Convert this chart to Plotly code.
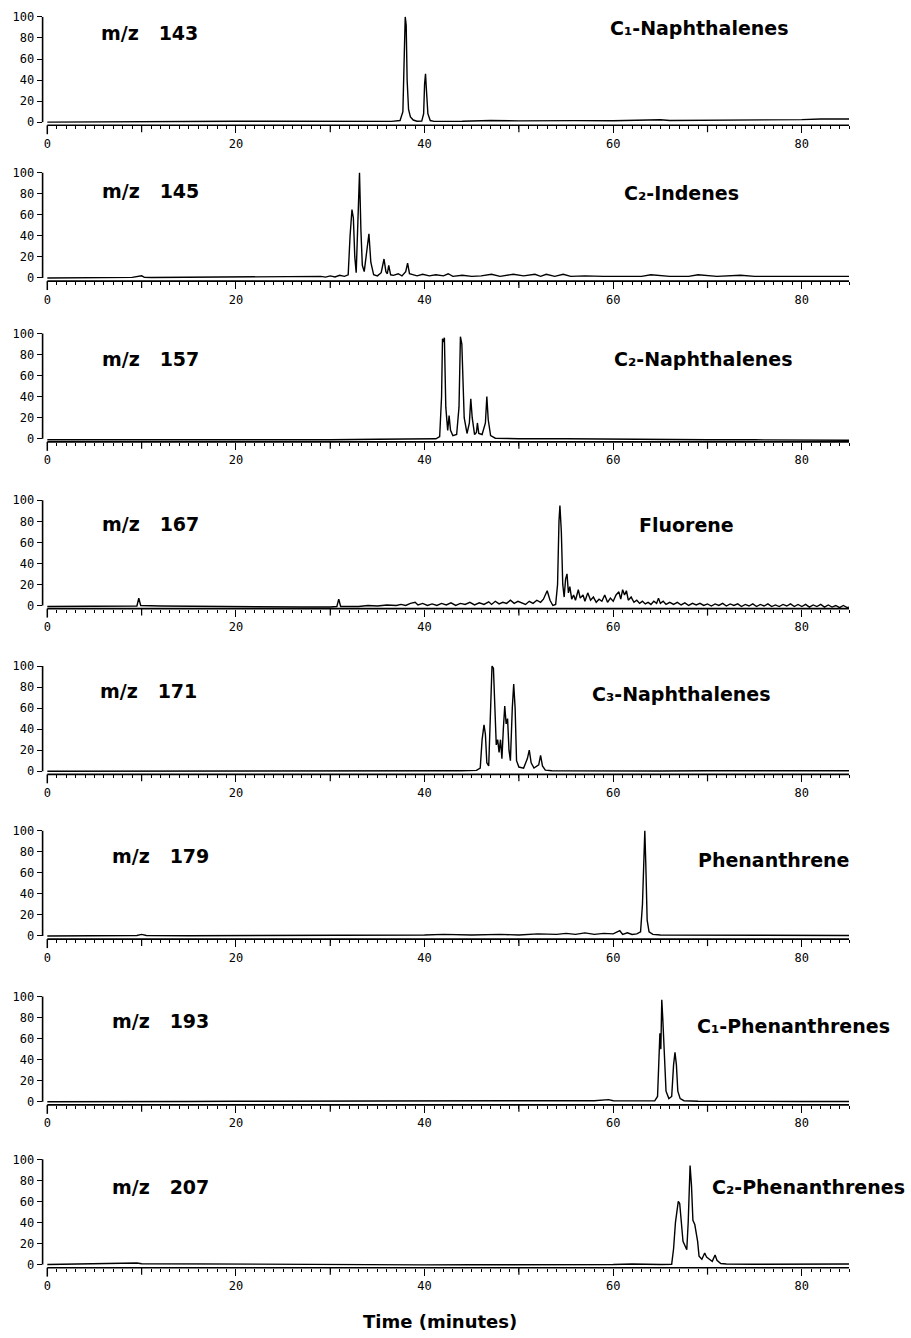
import plotly.graph_objects as go

# ---------------- data (time in minutes, relative intensity %) ----------------
panel_mz = ["m/z\u00a0\u00a0\u00a0143", "m/z\u00a0\u00a0\u00a0145", "m/z\u00a0\u00a0\u00a0157", "m/z\u00a0\u00a0\u00a0167",
            "m/z\u00a0\u00a0\u00a0171", "m/z\u00a0\u00a0\u00a0179", "m/z\u00a0\u00a0\u00a0193", "m/z\u00a0\u00a0\u00a0207"]
panel_names = ["C\u2081-Naphthalenes", "C\u2082-Indenes", "C\u2082-Naphthalenes", "Fluorene",
               "C\u2083-Naphthalenes", "Phenanthrene", "C\u2081-Phenanthrenes", "C\u2082-Phenanthrenes"]

x_tick_vals = [0, 20, 40, 60, 80]
x_tick_text = ["0", "20", "40", "60", "80"]
x_mid_ticks = [10, 30, 50, 70]
y_tick_vals = [0, 20, 40, 60, 80, 100]
y_tick_text = ["0", "20", "40", "60", "80", "100"]

mz143 = [(0, 0), (4, 0.3), (8, 0.5), (12, 0.8), (16, 0.6), (20, 0.9), (24, 0.8), (28, 0.6), (32, 0.5), (35, 0.6),
         (36.5, 0.7), (37.4, 1.5), (37.7, 10), (37.85, 65), (37.95, 100), (38.05, 92), (38.15, 40), (38.3, 12),
         (38.5, 5), (38.8, 2), (39.2, 0.8), (39.7, 1), (39.9, 8), (40.0, 36), (40.1, 46), (40.2, 30), (40.35, 8),
         (40.6, 1.5), (41, 0.7), (44, 0.8), (47, 1.6), (50, 1.2), (53, 1.5), (56, 1.4), (60, 1.3), (64, 1.6),
         (65, 2.2), (66, 1.5), (70, 1.6), (75, 1.7), (80, 2.4), (82, 3), (85, 3)]

mz145 = [(0, 0), (3, 0), (6, 0.3), (9, 0.5), (10, 2), (10.3, 0.5), (11, 0.4), (15, 0.6), (20, 0.4), (25, 0.7),
         (28, 0.8), (29, 1.5), (29.5, 0.8), (30, 2), (30.5, 1), (31, 2.5), (31.5, 1.5), (31.9, 3), (32.1, 40),
         (32.3, 65), (32.45, 57), (32.6, 20), (32.75, 5), (32.85, 36), (32.95, 60), (33.1, 100), (33.25, 45),
         (33.4, 12), (33.6, 6), (33.9, 25), (34.1, 42), (34.3, 15), (34.6, 3), (35, 2), (35.4, 5), (35.7, 18),
         (35.9, 6), (36.05, 4), (36.2, 12), (36.4, 3), (36.7, 2.5), (37.2, 4), (37.6, 2), (38.0, 6), (38.2, 14),
         (38.4, 4), (38.7, 3), (39.2, 2), (39.8, 3.5), (40.5, 2), (41.2, 3), (42, 2), (42.5, 4), (43, 1.5),
         (44, 2.5), (45, 1.5), (46, 2), (47.1, 3.5), (48, 1.5), (49.4, 3.5), (50.5, 2), (51.7, 3.5), (52.3, 1.5),
         (52.9, 3.5), (53.8, 1.5), (54.7, 3.5), (55.5, 1.5), (57, 2), (59, 1.5), (61, 1.8), (63, 1.5), (64, 3),
         (66, 1.5), (68, 1.5), (69, 3), (71, 1.5), (73.5, 2.5), (75, 1.5), (78, 1.5), (81, 1.5), (85, 1.5)]

mz157 = [(0, -1), (5, -1), (10, -1), (15, -1), (20, -1.5), (25, -1), (30, -1), (35, -0.5), (38, 0), (40, 0),
         (41.2, 0), (41.6, 2), (41.8, 40), (41.9, 95), (42.0, 92), (42.1, 96), (42.25, 30), (42.45, 8), (42.6, 22),
         (42.75, 8), (43.0, 3), (43.4, 4), (43.65, 30), (43.8, 97), (43.95, 90), (44.2, 20), (44.5, 5), (44.75, 15),
         (44.9, 38), (45.05, 20), (45.3, 4), (45.5, 6), (45.6, 15), (45.75, 5), (46.1, 4), (46.45, 15), (46.6, 40),
         (46.75, 18), (47.0, 3), (47.5, 0.5), (50, 0), (55, 0), (60, -0.5), (65, -0.5), (70, -1), (75, -1),
         (80, -1), (85, -1.5)]

mz167 = [(0, -1), (3, -1), (6, -1), (9, -0.8), (9.5, -0.5), (9.7, 7), (9.9, 0), (12, -0.5), (15, -0.8), (18, -0.8),
         (21, -1), (24, -1.5), (27, -1.5), (30, -1.5), (30.7, -1), (30.9, 6), (31.1, -1), (33, -1), (34, 0),
         (35, -0.5), (36, 0.5), (37, 0), (37.5, 1), (38, 0), (38.5, 2), (39, 3), (39.3, 0.5), (39.8, 2), (40.3, 0),
         (40.8, 1.5), (41.3, 0), (41.8, 2), (42.3, 0.5), (42.8, 2.5), (43.3, 0), (43.8, 2), (44.3, 1), (44.8, 3),
         (45.3, 0.5), (45.8, 2.5), (46.3, 1), (46.8, 3.5), (47.1, 1), (47.5, 4), (47.9, 1.5), (48.3, 3), (48.7, 2),
         (49.1, 5), (49.5, 2), (49.9, 4), (50.3, 2.5), (50.7, 1), (51.1, 4), (51.5, 2), (51.9, 5), (52.3, 3),
         (52.6, 6), (53.0, 14), (53.3, 5), (53.6, 0), (53.9, 1), (54.1, 20), (54.25, 80), (54.35, 95), (54.5, 70),
         (54.65, 20), (54.8, 8), (54.95, 25), (55.1, 30), (55.25, 12), (55.4, 18), (55.6, 6), (55.8, 10), (56.0, 5),
         (56.3, 15), (56.5, 7), (56.8, 10), (57.0, 4), (57.3, 12), (57.6, 5), (57.9, 8), (58.2, 3), (58.5, 6),
         (58.8, 4), (59.1, 10), (59.4, 3), (59.7, 7), (60.0, 4), (60.3, 10), (60.6, 13), (60.8, 6), (61.0, 15),
         (61.2, 10), (61.4, 14), (61.6, 5), (61.9, 8), (62.2, 3), (62.5, 5), (62.8, 2), (63.1, 4), (63.4, 1.5),
         (63.7, 3), (64.0, 1), (64.3, 4), (64.6, 2), (64.8, 7), (65.0, 2), (65.3, 4), (65.6, 1), (66.0, 3),
         (66.4, 1), (66.8, 3), (67.2, 0.5), (67.6, 2.5), (68.0, 0), (68.4, 2), (68.8, 0.5), (69.2, 2), (69.6, 0),
         (70.0, 1.5), (70.4, -0.5), (70.8, 1.5), (71.2, 0), (71.6, 2), (72.0, -0.5), (72.4, 1.5), (72.8, 0),
         (73.2, 1.5), (73.6, -1), (74.0, 1), (74.4, -0.5), (74.8, 1.5), (75.2, -1), (75.6, 1), (76.0, -0.5),
         (76.4, 1.5), (76.8, -1), (77.2, 0.5), (77.6, -1), (78.0, 1), (78.4, -0.5), (78.8, 1.5), (79.2, -1),
         (79.6, 1), (80.0, -1), (80.4, 1), (80.8, -1.5), (81.2, 0.5), (81.6, -1), (82.0, 1), (82.4, -1.5),
         (82.8, 0.5), (83.2, -1.5), (83.6, 0), (84.0, -2), (84.4, 0), (84.8, -2), (85, -1.5)]

mz171 = [(0, 0), (4, 0), (8, 0.3), (12, 0), (16, 0.2), (20, 0), (25, 0), (30, 0.2), (35, 0), (40, 0.3), (44, 0.5),
         (45.5, 0.8), (45.9, 3), (46.1, 30), (46.3, 44), (46.45, 35), (46.6, 8), (46.8, 5), (47.0, 60), (47.15, 100),
         (47.3, 98), (47.45, 55), (47.6, 25), (47.75, 30), (47.9, 18), (48.05, 30), (48.2, 12), (48.35, 40),
         (48.5, 62), (48.65, 45), (48.8, 50), (48.95, 20), (49.1, 10), (49.3, 60), (49.45, 83), (49.6, 60),
         (49.75, 10), (50.0, 4), (50.5, 3), (50.9, 12), (51.1, 20), (51.3, 8), (51.6, 3), (52.1, 6), (52.3, 15),
         (52.5, 5), (52.8, 1), (53.5, 0.5), (56, 0.3), (60, 0.3), (65, 0.2), (70, 0.5), (75, 0.3), (80, 0.3),
         (85, 0.5)]

mz179 = [(0, 0), (5, 0.3), (9.5, 0.5), (10, 1.5), (10.5, 0.5), (15, 0.3), (20, 0.3), (25, 0.5), (30, 0.5),
         (35, 0.8), (40, 1), (42, 1.5), (45, 1), (48, 1.5), (50, 1), (52, 2), (54, 1.5), (55, 2.5), (56, 1.5),
         (57, 3), (58, 1.5), (59, 2.5), (60, 2), (60.7, 5), (61, 1.5), (61.5, 3), (62, 1.5), (62.5, 2), (62.9, 4),
         (63.1, 30), (63.25, 82), (63.35, 100), (63.45, 70), (63.6, 15), (63.8, 4), (64.2, 1.5), (65, 1), (67, 1),
         (70, 0.8), (75, 0.5), (80, 0.5), (85, 0.5)]

mz193 = [(0, 0), (5, 0.3), (10, 0.5), (15, 0.3), (20, 0.5), (25, 0.5), (30, 0.6), (35, 0.5), (40, 0.5), (45, 0.3),
         (50, 0.5), (55, 0.5), (58, 1), (59.5, 2), (60, 1), (61, 0.8), (63, 0.5), (64.4, 0.8), (64.7, 5),
         (64.85, 40), (64.95, 65), (65.05, 50), (65.15, 97), (65.25, 80), (65.35, 60), (65.45, 30), (65.6, 10),
         (65.9, 3), (66.2, 5), (66.4, 35), (66.55, 47), (66.7, 35), (66.85, 10), (67.1, 3), (67.5, 1), (69, 0.5),
         (72, 0.3), (76, 0.3), (80, 0.3), (85, 0.3)]

mz207 = [(0, 0), (5, 0.5), (9.5, 1.5), (10, 0.8), (15, 0.5), (20, 0.2), (25, 0), (30, 0), (35, -0.2), (40, -0.3),
         (45, -0.2), (50, -0.3), (55, -0.3), (60, 0), (62, 0.5), (64, 0), (65, 0), (66.2, 0.3), (66.4, 15),
         (66.6, 40), (66.8, 52), (66.9, 60), (67.05, 58), (67.2, 38), (67.4, 22), (67.6, 18), (67.8, 14),
         (67.95, 40), (68.05, 70), (68.15, 94), (68.3, 75), (68.45, 42), (68.65, 38), (68.8, 30), (68.95, 22),
         (69.1, 8), (69.4, 5), (69.7, 11), (69.9, 7), (70.2, 5), (70.5, 3), (70.8, 9), (71.0, 4), (71.4, 1),
         (72, 0.5), (75, 0.3), (80, 0.3), (85, 0.5)]

series = [mz143, mz145, mz157, mz167, mz171, mz179, mz193, mz207]

# ---------------- layout geometry (pixels) ----------------
W, H = 911, 1338
p100 = [11, 168, 330, 498, 665, 831, 998, 1162]   # pixel row of the 100 tick in each panel
span = 106.0                                      # pixels for 0..100
ppu = span / 100.0
YMIN, YMAX = -3, 101
x_left_px, x_right_px = 42.6, 849.0
XMIN, XMAX = -0.5, 85

name_pos = [(608, 22), (622, 188), (612, 356), (637, 523), (590, 693), (696, 860), (695, 1028), (710, 1190)]
mz_pos = [(99, 27), (100, 186), (100, 356), (100, 522), (98, 690), (110, 856), (110, 1023), (110, 1190)]


def py(p):
    return 1 - p / H


def px(p):
    return p / W


fig = go.Figure()
layout = dict(width=W, height=H, margin=dict(l=0, r=0, t=0, b=0), paper_bgcolor="white",
              plot_bgcolor="white", showlegend=False)
shapes = []
annotations = []
tickfont = dict(family="DejaVu Sans Mono", size=12, color="black")
labfont = dict(family="DejaVu Sans", size=19, color="black")

for i, pts in enumerate(series):
    k = "" if i == 0 else str(i + 1)
    top = p100[i] - (YMAX - 100) * ppu
    bot = p100[i] + span + (0 - YMIN) * ppu
    p0 = p100[i] + span
    fig.add_trace(go.Scatter(x=[p[0] for p in pts], y=[p[1] for p in pts], mode="lines",
                             line=dict(color="black", width=1.4), xaxis="x" + k, yaxis="y" + k,
                             hoverinfo="skip"))
    layout["xaxis" + k] = dict(domain=[px(x_left_px), px(x_right_px)], anchor="y" + k, range=[XMIN, XMAX],
                               showgrid=False, zeroline=False, showline=False, ticks="outside",
                               tickvals=x_tick_vals, ticktext=x_tick_text, ticklen=7, tickwidth=1.2,
                               tickcolor="black", tickfont=tickfont,
                               minor=dict(dtick=1, tick0=0, ticks="outside", ticklen=3, tickwidth=1,
                                          tickcolor="black", showgrid=False))
    layout["yaxis" + k] = dict(domain=[py(bot), py(top)], anchor="x" + k, range=[YMIN, YMAX],
                               showgrid=False, zeroline=False, showline=False, ticks="outside",
                               tickvals=y_tick_vals, ticktext=y_tick_text, ticklen=5, tickwidth=1.2,
                               tickcolor="black", tickfont=tickfont)
    # axis lines
    shapes.append(dict(type="line", xref="paper", yref="paper", x0=px(x_left_px), x1=px(x_left_px),
                       y0=py(p0), y1=py(p100[i]), line=dict(color="black", width=1.6)))
    shapes.append(dict(type="line", xref="paper", yref="paper", x0=px(47.3), x1=px(x_right_px),
                       y0=py(bot), y1=py(bot), line=dict(color="black", width=1.6)))
    shapes.append(dict(type="line", xref="paper", yref="paper", x0=px(47.3), x1=px(47.3),
                       y0=py(bot), y1=py(bot + 9), line=dict(color="black", width=1.5)))
    for t in x_mid_ticks:
        shapes.append(dict(type="line", xref="x" + k, yref="paper", x0=t, x1=t,
                           y0=py(bot), y1=py(bot + 7), line=dict(color="black", width=1.2)))
    annotations.append(dict(text="<b>" + panel_mz[i] + "</b>", xref="paper", yref="paper",
                            x=px(mz_pos[i][0]), y=py(mz_pos[i][1]), xanchor="left", yanchor="middle",
                            showarrow=False, font=labfont))
    annotations.append(dict(text="<b>" + panel_names[i] + "</b>", xref="paper", yref="paper",
                            x=px(name_pos[i][0]), y=py(name_pos[i][1]), xanchor="left", yanchor="middle",
                            showarrow=False, font=labfont))

annotations.append(dict(text="<b>Time (minutes)</b>", xref="paper", yref="paper", x=px(440), y=py(1325),
                        xanchor="center", yanchor="middle", showarrow=False,
                        font=dict(family="DejaVu Sans", size=18, color="black")))

layout["shapes"] = shapes
layout["annotations"] = annotations
fig.update_layout(**layout)
fig.write_html("out.html")
